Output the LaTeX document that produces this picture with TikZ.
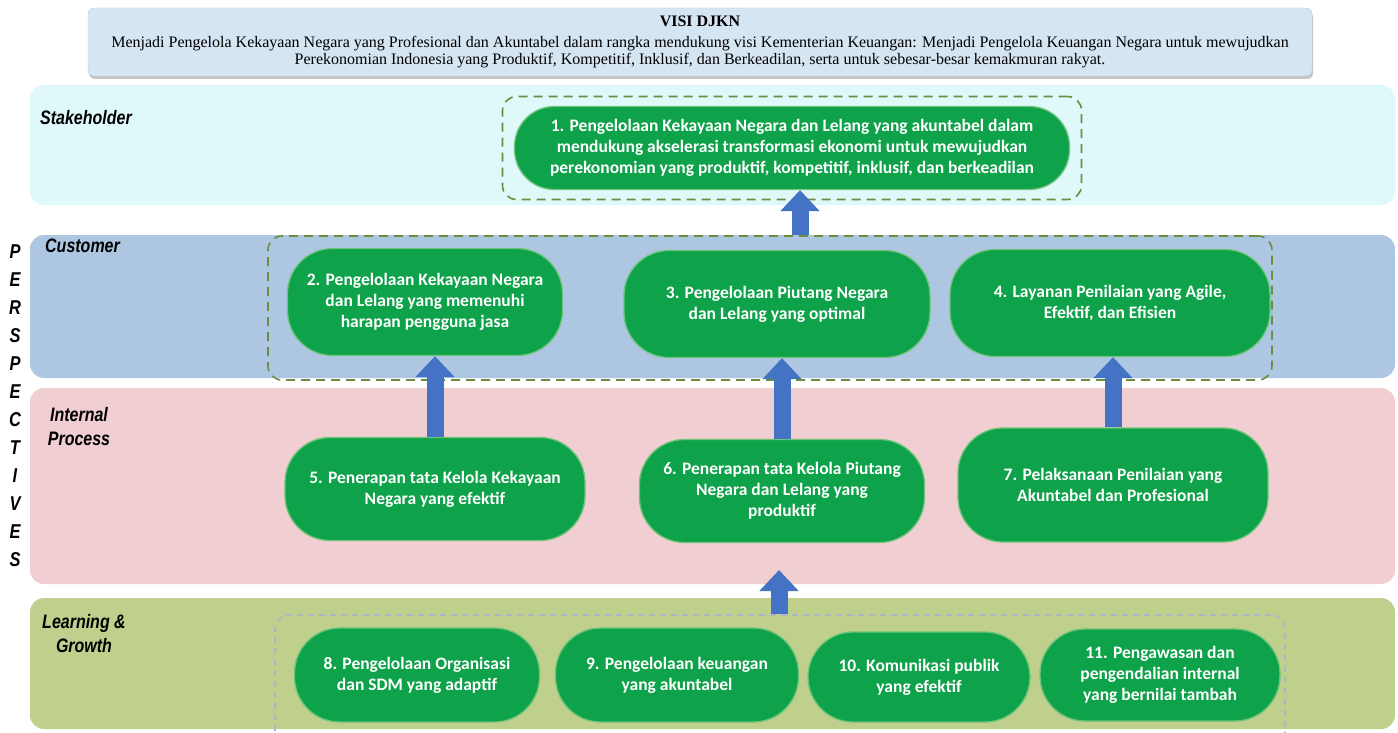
\documentclass[tikz,border=0pt]{standalone}
\usepackage{fontspec}
\setmainfont{Liberation Serif}
\newfontfamily\goalfont{Carlito}
\newfontfamily\labelfont[FakeStretch=0.82]{Liberation Sans}
\usetikzlibrary{arrows.meta,shadows}

\begin{document}
\begin{tikzpicture}[x=1pt,y=-1pt,
  band/.style={rounded corners=14pt},
  goal/.style={draw=goalRim,line width=1.3pt,fill=goalFill,text=white,rounded corners=45pt,
    align=center,inner sep=0pt,font=\goalfont\bfseries\fontsize{17.5}{21}\selectfont},
  grp/.style={draw=grpOlive,line width=1.6pt,rounded corners=14pt,dash pattern=on 9pt off 6pt,inner sep=0pt},
  upar/.style={draw=arrowBlue,line width=17pt,-{Triangle[width=38pt,length=21pt]}},
  lbl/.style={font=\labelfont\bfseries\itshape\fontsize{19.5}{24}\selectfont,align=center,inner sep=0pt},
  persp/.style={font=\labelfont\bfseries\itshape\fontsize{20}{22}\selectfont,inner sep=0pt}]
\useasboundingbox (0,0) rectangle (1398,733);
\definecolor{stakeBand}{RGB}{223,249,250}
\definecolor{custBand}{RGB}{173,199,227}
\definecolor{procBand}{RGB}{240,206,209}
\definecolor{learnBand}{RGB}{190,208,140}
\definecolor{visiFill}{RGB}{214,229,242}
\definecolor{visiRim}{RGB}{188,208,224}
\definecolor{goalFill}{RGB}{14,162,74}
\definecolor{goalRim}{RGB}{110,196,120}
\definecolor{grpOlive}{RGB}{110,140,62}
\definecolor{grpGrey}{RGB}{172,182,198}
\definecolor{arrowBlue}{RGB}{68,114,196}

\path[fill=white] (0,0) rectangle (1398,733);

\path[band,fill=stakeBand] (30,85) rectangle (1395,205);
\path[band,fill=custBand] (30,235) rectangle (1395,378);
\path[band,fill=procBand] (30,388) rectangle (1395,584);
\path[band,fill=learnBand] (30,598) rectangle (1395,729);

\node[draw=visiRim,fill=visiFill,rounded corners=6pt,minimum width=1224pt,minimum height=68pt,
  align=center,inner sep=0pt,font=\fontsize{16}{17}\selectfont,
  drop shadow={opacity=0.45,shadow xshift=1pt,shadow yshift=-3pt}] (visi) at (700,42)
  {{\bfseries VISI DJKN}\\[4pt]
   Menjadi Pengelola Kekayaan Negara yang Profesional dan Akuntabel dalam rangka mendukung visi Kementerian Keuangan: Menjadi Pengelola Keuangan Negara untuk mewujudkan\\
   Perekonomian Indonesia yang Produktif, Kompetitif, Inklusif, dan Berkeadilan, serta untuk sebesar-besar kemakmuran rakyat.};

\node[lbl,anchor=west] (lStake) at (40,118) {Stakeholder};
\node[lbl,anchor=west] (lCust) at (45,246) {Customer};
\node[lbl] (lProc) at (79,427) {Internal\\Process};
\node[lbl] (lLearn) at (84,634) {Learning \&\\Growth};

\foreach \ch [count=\i] in {P,E,R,S,P,E,C,T,I,V,E,S}
  \node[persp] (p\i) at (15,{224+28*\i}) {\ch};

\node[grp,minimum width=579pt,minimum height=103pt] (grpStake) at (792,148) {};
\node[grp,minimum width=1004pt,minimum height=144pt] (grpCust) at (770,308) {};
\node[grp,draw=grpGrey,dash pattern=on 6pt off 5pt,minimum width=1010pt,minimum height=140pt] (grpLearn) at (780,685) {};

\node[goal,rounded corners=40pt,minimum width=555pt,minimum height=83pt] (n1) at (792,148)
  {1. Pengelolaan Kekayaan Negara dan Lelang yang akuntabel dalam\\mendukung akselerasi transformasi ekonomi untuk mewujudkan\\perekonomian yang produktif, kompetitif, inklusif, dan berkeadilan};

\node[goal,minimum width=275pt,minimum height=107pt] (n2) at (425,302)
  {2. Pengelolaan Kekayaan Negara\\dan Lelang yang memenuhi\\harapan pengguna jasa};
\node[goal,minimum width=306pt,minimum height=107pt] (n3) at (777,304)
  {3. Pengelolaan Piutang Negara\\dan Lelang yang optimal};
\node[goal,minimum width=320pt,minimum height=107pt] (n4) at (1110,303)
  {4. Layanan Penilaian yang Agile,\\Efektif, dan Efisien};

\node[goal,minimum width=300pt,minimum height=103pt] (n5) at (435,489)
  {5. Penerapan tata Kelola Kekayaan\\Negara yang efektif};
\node[goal,minimum width=285pt,minimum height=103pt] (n6) at (782,491)
  {6. Penerapan tata Kelola Piutang\\Negara dan Lelang yang\\produktif};
\node[goal,minimum width=310pt,minimum height=114pt] (n7) at (1113,485)
  {7. Pelaksanaan Penilaian yang\\Akuntabel dan Profesional};

\node[goal,minimum width=245pt,minimum height=94pt] (n8) at (417,675)
  {8. Pengelolaan Organisasi\\dan SDM yang adaptif};
\node[goal,minimum width=243pt,minimum height=94pt] (n9) at (677,675)
  {9. Pengelolaan keuangan\\yang akuntabel};
\node[goal,minimum width=222pt,minimum height=90pt] (n10) at (919,677)
  {10. Komunikasi publik\\yang efektif};
\node[goal,minimum width=240pt,minimum height=92pt] (n11) at (1160,675)
  {11. Pengawasan dan\\pengendalian internal\\yang bernilai tambah};

\coordinate (tip6) at (779,570);

\draw[upar] ([xshift=8pt]grpCust.north -| n1.south) -- ([xshift=8pt]n1.south);
\draw[upar] (n5.north) -- (n5.north |- n2.south);
\draw[upar] (n6.north) -- (n6.north |- n3.south);
\draw[upar] (n7.north) -- (n7.north |- n4.south);
\draw[upar] (grpLearn.north -| tip6) -- (tip6);
\end{tikzpicture}
\end{document}
